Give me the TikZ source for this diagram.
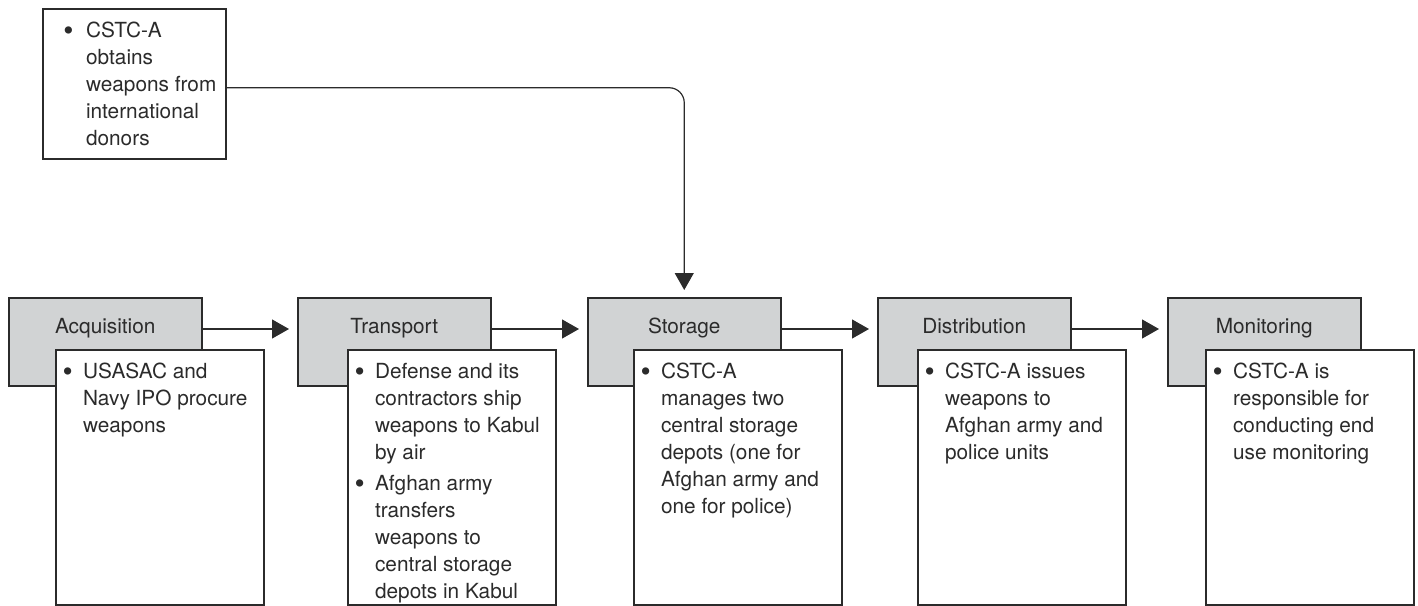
\documentclass[tikz,border=0pt]{standalone}
\usepackage{fontspec}
\usepackage{graphicx}
\setmainfont{TeX Gyre Heros}
\usetikzlibrary{arrows.meta,positioning}

\definecolor{stagegray}{HTML}{D1D3D4}
\definecolor{inkgray}{HTML}{2B2B2B}

\def\stagewidth{96.5pt}
\def\stageheight{44pt}
\def\detailwidth{104pt}
\def\detailheight{127.5pt}

% bullet item with explicit line breaks
\newcommand{\itm}[2][9.65pt]{\makebox[#1][l]{\hspace{-0.6pt}\raisebox{-1.3pt}{\scalebox{1.4}{\textbullet}}}\parbox[t]{95pt}{\raggedright\strut #2\strut}}

\begin{document}
\begin{tikzpicture}[x=0.5pt,y=-0.5pt,draw=inkgray,text=inkgray,line width=0.75pt,
    font={\fontsize{10.4}{13.5}\selectfont}]
    \tikzstyle{stage}=[draw,fill=stagegray,anchor=north west,minimum width=\stagewidth,minimum height=\stageheight,inner sep=0pt]
    \tikzstyle{stage label}=[anchor=base,yshift=-18pt]
    \tikzstyle{detail}=[draw,fill=white,anchor=north west,minimum width=\detailwidth,minimum height=\detailheight,inner sep=0pt]
    \tikzstyle{bullets}=[anchor=north west,inner sep=0pt,align=left,xshift=4pt,yshift=-5.05pt]
    \tikzstyle{flow}=[-{Triangle[length=8.5pt,width=9.5pt]},line width=0.6pt]

    \useasboundingbox (0,0) rectangle (1418,605);

    % Draw the source box
    \node[detail,minimum width=91.5pt,minimum height=75pt] (donors) at (42,8) {};
    \node[bullets,xshift=6.85pt] (donors-t) at (donors.north west)
        {\itm[10.8pt]{CSTC-A\\obtains\\weapons from\\international\\donors}};

    % Draw the stage boxes
    \foreach \name / \x / \lbl in {acq/8/Acquisition,trans/297/Transport,stor/587/Storage,dist/877/Distribution,mon/1167/Monitoring}
        \node[stage,label={[stage label]north:\lbl}] (\name) at (\x,297) {};

    % Connect the stages
    \foreach \source / \dest in {acq/trans,trans/stor,stor/dist,dist/mon}
        \draw[flow,shorten >=4pt] ([yshift=-16pt]\source.north east) -- ([yshift=-16pt]\dest.north west);

    \draw[flow,rounded corners=7.5pt,shorten >=3.5pt] ([yshift=-2pt]donors.east) -| (stor.north);

    % Draw the detail boxes
    \node[detail] (acq-d) at (55,349) {};
    \node[bullets] (acq-t) at (acq-d.north west)
        {\itm{USASAC and\\Navy IPO procure\\weapons}};

    \node[detail] (trans-d) at (347,349) {};
    \node[bullets] (trans-t) at (trans-d.north west)
        {\itm{Defense and its\\contractors ship\\weapons to Kabul\\by air}\\[1pt]
         \itm{Afghan army\\transfers\\weapons to\\central storage\\depots in Kabul}};

    \node[detail] (stor-d) at (633,349) {};
    \node[bullets] (stor-t) at (stor-d.north west)
        {\itm{CSTC-A\\manages two\\central storage\\depots (one for\\Afghan army and\\one for police)}};

    \node[detail] (dist-d) at (917,349) {};
    \node[bullets] (dist-t) at (dist-d.north west)
        {\itm{CSTC-A issues\\weapons to\\Afghan army and\\police units}};

    \node[detail] (mon-d) at (1205,349) {};
    \node[bullets] (mon-t) at (mon-d.north west)
        {\itm{CSTC-A is\\responsible for\\conducting end\\use monitoring}};
\end{tikzpicture}
\end{document}
